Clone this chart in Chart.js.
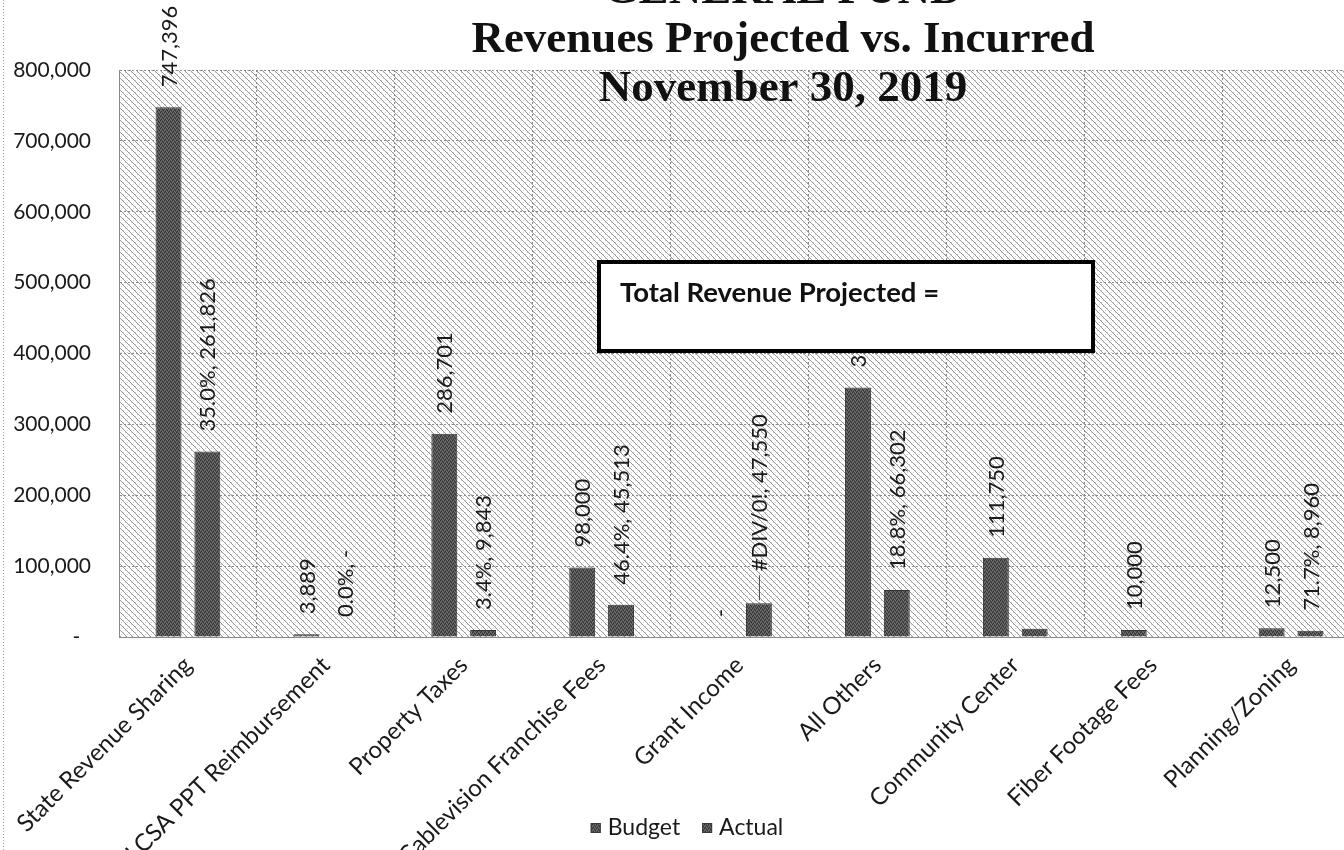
<!DOCTYPE html>
<html>
<head>
<meta charset="utf-8">
<title>General Fund</title>
<script src="https://cdn.jsdelivr.net/npm/chart.js@4.4.1/dist/chart.umd.min.js"></script>
<style>
    html, body { margin: 0; padding: 0; background: #fff; overflow: hidden; }
    #wrap { width: 1344px; height: 850px; overflow: hidden; position: relative; }
    #revChart { position: absolute; left: 0; top: 0; }
</style>
</head>
<body>
<div id="wrap"><canvas id="revChart" width="1374" height="850"></canvas></div>
<script>
// Ingresos del fondo general
const categories = [
    'State Revenue Sharing', 'LCSA PPT Reimbursement', 'Property Taxes',
    'Cablevision Franchise Fees', 'Grant Income', 'All Others',
    'Community Center', 'Fiber Footage Fees', 'Planning/Zoning'
];
const budget = [747396, 3889, 286701, 98000, 0, 352100, 111750, 10000, 12500];
const actual = [261826, 0, 9843, 45513, 47550, 66302, 11500, 0, 8960];
const showBudgetLabel = [true, true, true, true, true, true, true, true, true];
const showActualLabel = [true, true, true, true, true, true, false, false, true];
const yMax = 800000;
const yStep = 100000;
const titleLines = ['GENERAL FUND', 'Revenues Projected vs. Incurred', 'November 30, 2019'];
const boxText = 'Total Revenue Projected =';

// etiqueta de Grant Income movida hacia arriba con linea guia
const actualLabelLift = { 4: 12 };

function fmt(v) {
    return v === 0 ? '-' : v.toLocaleString('en-US');
}
function pct(a, b) {
    return b === 0 ? '#DIV/0!' : (a / b * 100).toFixed(1) + '%';
}

// texturas
function makeBarPattern() {
    const c = document.createElement('canvas');
    c.width = 4; c.height = 4;
    const g = c.getContext('2d');
    g.fillStyle = '#545454';
    g.fillRect(0, 0, 4, 4);
    g.fillStyle = '#323232';
    g.fillRect(0, 0, 1, 1); g.fillRect(2, 1, 1, 1); g.fillRect(1, 3, 1, 1); g.fillRect(3, 2, 1, 1);
    g.fillStyle = '#727272';
    g.fillRect(1, 1, 1, 1); g.fillRect(3, 0, 1, 1); g.fillRect(0, 2, 1, 1); g.fillRect(2, 3, 1, 1);
    return g.createPattern(c, 'repeat');
}
function makeHatch() {
    const n = 6;
    const c = document.createElement('canvas');
    c.width = n; c.height = n;
    const g = c.getContext('2d');
    g.fillStyle = '#ffffff';
    g.fillRect(0, 0, n, n);
    for (let i = 0; i < n; i++) {
        g.fillStyle = '#9a9a9a';
        g.fillRect(i, i, 1, 1);
        if (i % 2 === 1) {
            g.fillStyle = '#cfcfcf';
            g.fillRect(i, n - 1 - i, 1, 1);
        }
    }
    return g.createPattern(c, 'repeat');
}
const barFill = makeBarPattern();
const hatch = makeHatch();

const plotBackground = {
    id: 'plotBackground',
    beforeDraw(chart) {
        const { ctx, chartArea: a } = chart;
        ctx.save();
        ctx.fillStyle = hatch;
        ctx.fillRect(a.left, a.top, a.right - a.left, a.bottom - a.top);
        // borde punteado del area del grafico
        ctx.strokeStyle = '#a0a0a0';
        ctx.setLineDash([1, 2]);
        ctx.beginPath();
        ctx.moveTo(3.5, 0);
        ctx.lineTo(3.5, chart.height);
        ctx.stroke();
        ctx.restore();
    }
};

const barLabels = {
    id: 'barLabels',
    afterDatasetsDraw(chart) {
        const { ctx } = chart;
        ctx.save();
        ctx.font = '22px Lato';
        ctx.fillStyle = '#1a1a1a';
        ctx.textAlign = 'left';
        ctx.textBaseline = 'middle';
        chart.data.datasets.forEach((ds, di) => {
            const meta = chart.getDatasetMeta(di);
            meta.data.forEach((bar, i) => {
                let text;
                if (di === 0) {
                    if (!showBudgetLabel[i]) return;
                    text = fmt(budget[i]);
                } else {
                    if (!showActualLabel[i]) return;
                    text = pct(actual[i], budget[i]) + ', ' + fmt(actual[i]);
                }
                const lift = di === 1 && actualLabelLift[i] ? actualLabelLift[i] : 0;
                const y0 = bar.y - 20 - lift;
                if (lift) {
                    ctx.strokeStyle = '#444';
                    ctx.lineWidth = 1;
                    ctx.beginPath();
                    ctx.moveTo(bar.x + 0.5, bar.y - 3);
                    ctx.lineTo(bar.x + 0.5, y0 + 4);
                    ctx.stroke();
                }
                ctx.save();
                ctx.translate(bar.x + 1, y0);
                ctx.rotate(-Math.PI / 2);
                ctx.fillText(text, 0, 0);
                ctx.restore();
            });
        });
        ctx.restore();
    }
};

const overlays = {
    id: 'overlays',
    afterDraw(chart) {
        const { ctx } = chart;
        ctx.save();
        // cuadro de total
        ctx.fillStyle = '#ffffff';
        ctx.fillRect(599, 262, 494, 89);
        ctx.strokeStyle = '#000';
        ctx.lineWidth = 4;
        ctx.strokeRect(599, 262, 494, 89);
        ctx.fillStyle = '#111';
        ctx.font = 'bold 27.5px Lato';
        ctx.textAlign = 'left';
        ctx.textBaseline = 'alphabetic';
        ctx.fillText(boxText, 620, 302);
        // titulo sobre el area de trazado
        ctx.font = 'bold 45px "Liberation Serif"';
        ctx.textAlign = 'center';
        titleLines.forEach((line, k) => {
            ctx.fillText(line, 783, 3 + k * 49);
        });
        // leyenda
        ctx.font = '23px Lato';
        ctx.textAlign = 'left';
        ctx.textBaseline = 'middle';
        const items = chart.data.datasets.map(ds => ({ text: ds.label, fill: ds.backgroundColor }));
        const gapBox = 7, gapItem = 22, box = 10;
        let total = 0;
        items.forEach((it, k) => {
            total += box + gapBox + ctx.measureText(it.text).width + (k ? gapItem : 0);
        });
        let x = chart.width / 2 - total / 2;
        const ly = 828;
        items.forEach((it) => {
            ctx.fillStyle = it.fill;
            ctx.fillRect(x, ly - box / 2, box, box);
            ctx.strokeStyle = '#3a3a3a';
            ctx.lineWidth = 1;
            ctx.strokeRect(x + 0.5, ly - box / 2 + 0.5, box - 1, box - 1);
            x += box + gapBox;
            ctx.fillStyle = '#1a1a1a';
            ctx.fillText(it.text, x, ly);
            x += ctx.measureText(it.text).width + gapItem;
        });
        ctx.restore();
    }
};

const revChart = new Chart(document.getElementById('revChart'), {
    type: 'bar',
    data: {
        labels: categories,
        datasets: [{
            label: 'Budget',
            data: budget,
            backgroundColor: barFill,
            borderColor: '#333333',
            borderWidth: 1,
            barPercentage: 0.667,
            categoryPercentage: 0.563
        }, {
            label: 'Actual',
            data: actual,
            backgroundColor: barFill,
            borderColor: '#333333',
            borderWidth: 1,
            barPercentage: 0.667,
            categoryPercentage: 0.563
        }]
    },
    options: {
        responsive: false,
        animation: false,
        layout: { padding: { top: 70, right: 14, left: 10, bottom: 0 } },
        plugins: {
            title: { display: false },
            tooltip: { enabled: false },
            legend: { display: false }
        },
        scales: {
            x: {
                grid: { color: '#8a8a8a', offset: true, drawTicks: false },
                border: { color: '#8a8a8a', dash: [2, 2] },
                ticks: {
                    font: { family: 'Lato', size: 24 },
                    color: '#1a1a1a',
                    maxRotation: 45,
                    minRotation: 45,
                    autoSkip: false,
                    padding: 14
                },
                afterFit(scale) { scale.height = 213; }
            },
            y: {
                min: 0,
                max: yMax,
                grid: { color: '#8a8a8a', drawTicks: false },
                border: { color: '#8a8a8a', dash: [2, 2] },
                ticks: {
                    stepSize: yStep,
                    font: { family: 'Lato', size: 21 },
                    color: '#1a1a1a',
                    padding: 28,
                    callback: (v) => v === 0 ? '-  ' : v.toLocaleString('en-US')
                },
                afterFit(scale) { scale.width = 109; }
            }
        }
    },
    plugins: [plotBackground, barLabels, overlays]
});
</script>
</body>
</html>
